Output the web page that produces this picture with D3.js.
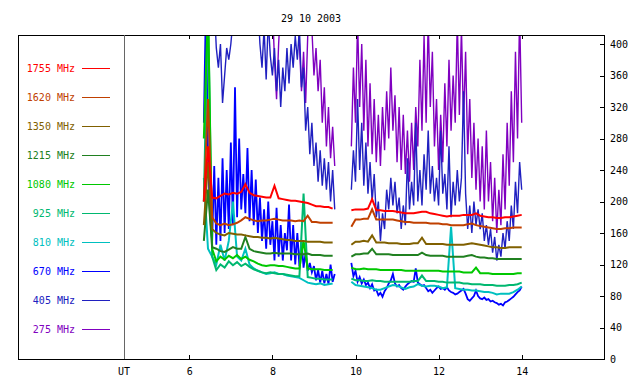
<!DOCTYPE html>
<html>
<head>
<meta charset="utf-8">
<style>
    body { margin: 0; background: #fff; }
    svg { display: block; font-family: "DejaVu Sans Mono", monospace; font-size: 10px; }
    .axis .domain { display: none; }
    .axis text { fill: #000; font-family: "DejaVu Sans Mono", monospace; font-size: 10px; }
    .axis line { stroke: #000; shape-rendering: crispEdges; }
    .series { fill: none; stroke-linejoin: miter; }
</style>
</head>
<body>
<svg width="640" height="384"></svg>
<script src="https://cdn.jsdelivr.net/npm/d3@7"></script>
<script>

    // flux (sfu) per channel
    // part a starts 6.35 UT, part b starts 9.90 UT
    let names  = ["1755 MHz", "1620 MHz", "1350 MHz", "1215 MHz", "1080 MHz", "925 MHz", "810 MHz", "670 MHz", "405 MHz", "275 MHz"]
    let colors = ["#ff0000", "#c04000", "#806000", "#208020", "#00c800", "#00b870", "#00c0c0", "#0000ff", "#2020c0", "#8000c0"]
    let yTicks = [0, 40, 80, 120, 160, 200, 240, 280, 320, 360, 400]
    let xTicks = [6, 8, 10, 12, 14]

    let startA = 6.35
    let startB = 9.9

    // smooth channels, one value every 0.1 h
    let f1755a = [200, 270, 205, 204, 207, 210, 209, 211, 210, 212, 222, 211, 208, 207, 206, 205, 205, 220, 204, 203, 202, 201, 201, 200, 199, 198, 196, 194, 194, 193, 193, 191]
    let f1755b = [189, 190, 190, 190, 191, 203, 189, 189, 188, 188, 188, 187, 186, 185, 185, 185, 186, 187, 187, 185, 184, 183, 182, 181, 182, 182, 182, 183, 183, 183, 185, 182, 181, 180, 180, 179, 179, 180, 180, 181, 182, 183]
    let f1620a = [200, 330, 180, 172, 170, 172, 170, 171, 173, 176, 180, 178, 176, 175, 176, 176, 177, 178, 177, 176, 176, 176, 175, 176, 175, 182, 174, 174, 173, 173, 173, 173]
    let f1620b = [168, 177, 177, 178, 178, 190, 177, 177, 177, 177, 177, 176, 175, 174, 174, 173, 173, 173, 173, 172, 172, 172, 171, 171, 170, 170, 170, 170, 171, 172, 170, 169, 168, 167, 166, 165, 165, 166, 166, 167, 167, 167]
    let f1350a = [170, 250, 165, 160, 158, 157, 160, 159, 158, 158, 157, 156, 155, 155, 154, 154, 153, 154, 153, 152, 151, 151, 150, 150, 150, 149, 149, 149, 149, 148, 148, 148]
    let f1350b = [145, 149, 149, 150, 149, 157, 148, 148, 148, 147, 147, 147, 146, 146, 146, 147, 147, 154, 146, 146, 146, 146, 146, 145, 145, 145, 145, 145, 146, 147, 146, 145, 144, 143, 142, 142, 141, 141, 142, 142, 142, 142]
    let f1215a = [150, 215, 142, 140, 137, 136, 139, 142, 140, 140, 155, 140, 137, 136, 135, 134, 134, 135, 134, 134, 134, 134, 133, 133, 133, 134, 132, 132, 132, 131, 131, 131]
    let f1215b = [130, 133, 133, 134, 134, 140, 133, 133, 133, 133, 132, 132, 132, 132, 132, 132, 132, 135, 132, 131, 131, 131, 131, 130, 130, 130, 130, 130, 131, 132, 130, 129, 129, 128, 128, 127, 127, 127, 127, 127, 127, 127]
    let f1080a = [280, 450, 140, 124, 130, 126, 131, 128, 132, 127, 130, 126, 124, 121, 119, 118, 119, 119, 118, 118, 117, 116, 115, 115, 150, 115, 114, 114, 114, 113, 113, 113]
    let f1080b = [116, 114, 114, 115, 114, 114, 114, 113, 113, 113, 113, 113, 113, 112, 112, 112, 112, 112, 112, 112, 112, 112, 111, 111, 111, 111, 111, 110, 110, 110, 116, 109, 109, 109, 108, 108, 108, 108, 108, 108, 109, 109]
    let f925a  = [200, 450, 130, 113, 120, 116, 124, 119, 123, 118, 121, 117, 114, 112, 110, 109, 110, 109, 108, 108, 107, 106, 105, 105, 210, 104, 103, 102, 102, 101, 101, 101]
    let f925b  = [102, 100, 100, 99, 99, 100, 99, 99, 98, 98, 98, 98, 98, 98, 98, 99, 99, 106, 99, 99, 99, 98, 98, 97, 97, 97, 97, 96, 96, 95, 95, 95, 94, 94, 94, 93, 93, 93, 94, 94, 95, 97]
    let f810a  = [230, 140, 130, 120, 145, 125, 150, 200, 130, 125, 140, 120, 115, 112, 110, 108, 109, 110, 108, 108, 106, 105, 104, 103, 100, 97, 96, 95, 96, 94, 95, 96]
    let f810b  = [98, 94, 93, 92, 91, 90, 88, 88, 90, 92, 94, 93, 91, 89, 91, 92, 95, 93, 92, 93, 93, 92, 90, 91, 168, 90, 89, 88, 88, 87, 87, 86, 85, 85, 84, 82, 83, 83, 83, 85, 88, 92]

    // noisy channels, one value every 0.05 h
    let f670a = [300, 450, 260, 180, 150, 245, 145, 230, 150, 255, 160, 240, 165, 275, 170, 345, 180, 280, 190, 235,
                 185, 268, 175, 240, 170, 228, 160, 205, 150, 190, 140, 200, 145, 175, 125, 192, 130, 170, 125, 160,
                 138, 196, 125, 170, 120, 160, 118, 150, 116, 135, 112, 122, 110, 118, 100, 113, 97, 112, 96, 108,
                 95, 120, 98, 108]
    let f670b = [122, 105, 112, 98, 104, 96, 101, 94, 97, 90, 95, 87, 88, 81, 84, 79, 86, 90, 96, 100,
                 108, 96, 92, 94, 90, 88, 92, 95, 97, 99, 98, 115, 97, 95, 93, 94, 90, 86, 88, 84,
                 87, 90, 92, 89, 90, 88, 91, 87, 85, 84, 82, 83, 85, 87, 89, 83, 76, 74, 77, 80,
                 87, 80, 77, 76, 78, 75, 76, 73, 74, 72, 71, 69, 70, 68, 72, 73, 75, 77, 79, 82,
                 85, 87, 92]
    let f405a = [450, 450, 450, 450, 450, 450, 395, 370, 400, 325, 360, 395, 380, 400, 430, 450, 450, 450, 450, 450,
                 450, 450, 450, 450, 450, 450, 450, 400, 370, 420, 355, 430, 385, 360, 395, 340, 380, 320, 370, 340,
                 395, 350, 400, 370, 410, 380, 420, 345, 370, 290, 320, 260, 300, 245, 275, 225, 265, 220, 255, 215,
                 250, 200, 240, 190]
    let f405b = [215, 265, 225, 330, 240, 300, 220, 275, 210, 250, 200, 235, 180, 200, 150, 185, 165, 215, 190, 230,
                 195, 225, 185, 205, 165, 195, 170, 255, 190, 225, 195, 300, 200, 240, 195, 260, 215, 290, 210, 245,
                 200, 230, 195, 290, 210, 235, 190, 270, 180, 225, 195, 240, 200, 230, 340, 210, 165, 195, 160, 200,
                 170, 190, 165, 185, 150, 170, 145, 165, 135, 155, 125, 145, 130, 160, 140, 175, 150, 195, 165, 225,
                 185, 250, 215]
    let f275a = [450, 450, 450, 450, 450, 450, 450, 450, 450, 450, 450, 450, 450, 450, 450, 450, 450, 450, 450, 450,
                 450, 450, 450, 450, 450, 450, 450, 450, 450, 450, 450, 450, 450, 450, 380, 330, 400, 450, 450, 450,
                 450, 450, 450, 450, 450, 450, 400, 340, 390, 325, 410, 450, 420, 360, 395, 340, 380, 300, 345, 270,
                 320, 255, 295, 245]
    let f275b = [270, 370, 300, 430, 320, 400, 290, 380, 270, 350, 260, 330, 250, 310, 245, 320, 265, 340, 280, 370,
                 290, 335, 250, 320, 240, 310, 235, 290, 225, 300, 240, 320, 270, 380, 290, 410, 300, 430, 320, 390,
                 270, 330, 240, 310, 250, 350, 270, 380, 290, 360, 300, 430, 310, 420, 300, 390, 260, 330, 230, 300,
                 215, 280, 200, 270, 190, 290, 200, 250, 175, 230, 160, 215, 170, 260, 190, 300, 220, 340, 250, 390,
                 280, 440, 300]

    let seriesA = [f1755a, f1620a, f1350a, f1215a, f1080a, f925a, f810a, f670a, f405a, f275a]
    let seriesB = [f1755b, f1620b, f1350b, f1215b, f1080b, f925b, f810b, f670b, f405b, f275b]
    let steps   = [0.1, 0.1, 0.1, 0.1, 0.1, 0.1, 0.1, 0.05, 0.05, 0.05]
    let widths  = [2, 2, 2, 2, 2, 2, 2, 1.8, 1.4, 1.4]

    let svg = d3.select("svg")

    let frame = {left: 18, right: 604, top: 35, bottom: 359}
    let divider = 124

    let x = d3.scaleLinear()
        .domain([6, 14])
        .range([189.3, 521.7])

    let y = d3.scaleLinear()
        .domain([0, 400])
        .range([frame.bottom, 44])

    let legendY = d3.scalePoint()
        .domain(names)
        .range([67, 330])
        .round(true)

    svg.append("defs").append("clipPath")
        .attr("id", "plot")
        .append("rect")
        .attr("x", frame.left)
        .attr("y", frame.top)
        .attr("width", frame.right - frame.left)
        .attr("height", frame.bottom - frame.top)

    // title
    svg.append("text")
        .attr("x", 311)
        .attr("y", 22)
        .attr("text-anchor", "middle")
        .attr("fill", "#000")
        .text("29 10 2003")

    // series, low frequencies underneath
    let line = d3.line()
        .defined(d => d.v != null)
        .x(d => x(d.t))
        .y(d => y(d.v))

    let table = names.map((name, k) => {
        let pts = seriesA[k].map((v, i) => ({t: startA + i * steps[k], v: v}))
        pts.push({t: 9.7, v: null})
        seriesB[k].forEach((v, i) => pts.push({t: startB + i * steps[k], v: v}))
        return {name: name, color: colors[k], width: widths[k], points: pts}
    })

    svg.append("g")
        .attr("clip-path", "url(#plot)")
        .selectAll("path")
        .data(table.slice().reverse())
        .join("path")
        .attr("class", "series")
        .attr("stroke", d => d.color)
        .attr("stroke-width", d => d.width)
        .attr("d", d => line(d.points))

    // frame and divider
    svg.append("rect")
        .attr("x", frame.left + 0.5)
        .attr("y", frame.top + 0.5)
        .attr("width", frame.right - frame.left)
        .attr("height", frame.bottom - frame.top)
        .attr("fill", "none")
        .attr("stroke", "#000")
        .attr("shape-rendering", "crispEdges")

    svg.append("line")
        .attr("x1", divider + 0.5).attr("x2", divider + 0.5)
        .attr("y1", frame.top).attr("y2", frame.bottom)
        .attr("stroke", "#666")
        .attr("shape-rendering", "crispEdges")

    // axes, ticks point inward
    svg.append("g")
        .attr("class", "axis")
        .attr("transform", `translate(0, ${frame.bottom})`)
        .call(d3.axisBottom(x).tickValues(xTicks).tickSizeInner(-4).tickSizeOuter(0).tickPadding(9))

    svg.append("g")
        .attr("class", "axis")
        .attr("transform", `translate(0, ${frame.top})`)
        .call(d3.axisTop(x).tickValues(xTicks).tickSizeInner(-4).tickSizeOuter(0).tickFormat(""))

    svg.append("g")
        .attr("class", "axis")
        .attr("transform", `translate(${frame.right}, 0)`)
        .call(d3.axisRight(y).tickValues(yTicks).tickSizeInner(-4).tickSizeOuter(0).tickPadding(6))

    svg.append("text")
        .attr("x", divider)
        .attr("y", 375)
        .attr("text-anchor", "middle")
        .attr("fill", "#000")
        .text("UT")

    // legend
    let legend = svg.append("g")
        .attr("class", "legend")
        .selectAll("g")
        .data(table)
        .join("g")
        .attr("transform", d => `translate(0, ${legendY(d.name)})`)

    legend.append("text")
        .attr("x", 75)
        .attr("y", 4)
        .attr("text-anchor", "end")
        .style("fill", d => d.color)
        .text(d => d.name)

    legend.append("rect")
        .attr("x", 82)
        .attr("y", 0)
        .attr("width", 28)
        .attr("height", 1)
        .style("fill", d => d.color)

</script>
</body>
</html>
